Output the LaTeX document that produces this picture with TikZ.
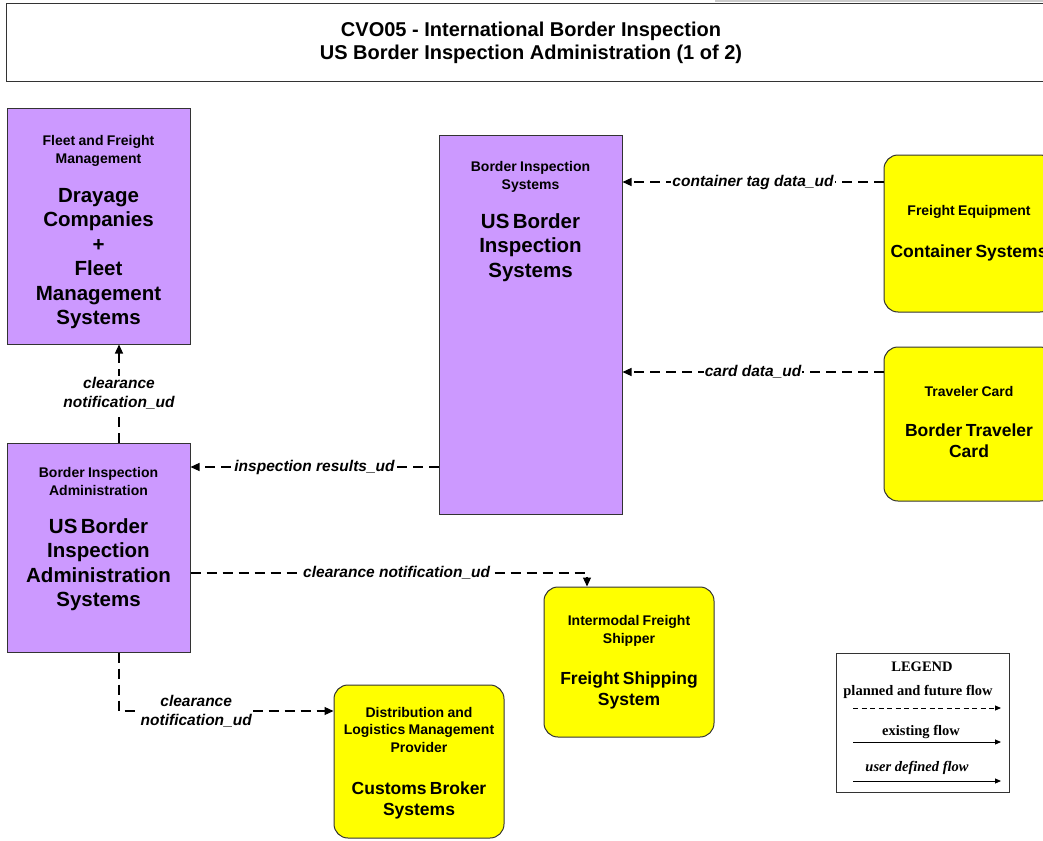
\documentclass[tikz,border=0pt]{standalone}
\usepackage{fontspec}
\setmainfont{Liberation Sans}
\newfontfamily\legendfont{Liberation Serif}
\usepackage{xcolor}
\definecolor{bisviolet}{HTML}{CC99FF}
\definecolor{bisyellow}{HTML}{FFFF00}
\definecolor{bisedge}{HTML}{333333}
\usetikzlibrary{arrows.meta,positioning,calc}

\newcommand{\smalltxt}{\fontsize{14}{17.5}\selectfont\bfseries}
\newcommand{\bigtxt}{\fontsize{20.5}{24.5}\selectfont\bfseries}
\newcommand{\termtxt}{\fontsize{17.5}{21}\selectfont\bfseries}
\newcommand{\padv}[1]{\vspace{#1}\hrule height0pt}

\tikzset{
  sysbox/.style={draw=bisedge,line width=1pt,fill=bisviolet,minimum width=183pt,
    text width=176pt,align=center,inner sep=0pt},
  termbox/.style={draw=bisedge,line width=1pt,fill=bisyellow,rounded corners=14pt,
    minimum width=170pt,text width=164pt,align=center,inner sep=0pt},
  flow/.style={line width=1.1pt,dash pattern=on 10pt off 6pt,
    -{Triangle[length=9pt,width=8pt]}},
  flowlbl/.style={fill=white,inner sep=1pt,align=center,
    font=\fontsize{15.5}{19}\selectfont\bfseries\itshape},
  lgdtxt/.style={font=\legendfont\fontsize{14.5}{16}\selectfont\bfseries,inner sep=0pt},
  lgdflow/.style={line width=0.9pt,-{Triangle[length=6pt,width=5pt]}},
}

\begin{document}
\begin{tikzpicture}[x=1pt,y=-1pt]
\useasboundingbox (0,0) rectangle (1043,840);
\clip (0,0) rectangle (1043,840);
\draw[black!20,line width=1.5pt] (715,0.8) -- (1043,0.8);

% title
\node[draw=bisedge,line width=1pt,minimum width=1050pt,minimum height=78pt,align=center,
  font=\fontsize{20}{23.5}\selectfont\bfseries] (title) at (531,43)
  {CVO05 - International Border Inspection\\US Border Inspection Administration (1 of 2)};

% subsystems
\node[sysbox,minimum height=235pt] (dray) at (98.5,226.5)
  {\hrule height0pt\vspace{12pt}{\smalltxt Fleet and Freight\\Management\par}\vspace{14.5pt}%
   {\bigtxt Drayage\\Companies\\+\\Fleet\\Management\\Systems\par}};
\node[sysbox,minimum height=379pt] (bis) at (530.5,324.5)
  {{\smalltxt Border Inspection\\Systems\par}\vspace{14.5pt}%
   {\bigtxt US Border\\Inspection\\Systems\par}\padv{206pt}};
\node[sysbox,minimum height=209pt] (adm) at (98.5,547.5)
  {{\smalltxt Border Inspection\\Administration\par}\vspace{13.5pt}%
   {\bigtxt US Border\\Inspection\\Administration\\Systems\par}\padv{16pt}};

% terminators
\node[termbox,minimum height=157pt] (cont) at (969,233.5)
  {{\smalltxt Freight Equipment\par}\vspace{21pt}{\termtxt Container Systems\par}};
\node[termbox,minimum height=154pt] (trav) at (969,424)
  {{\smalltxt Traveler Card\par}\vspace{19pt}{\termtxt Border Traveler\\Card\par}\padv{3pt}};
\node[termbox,minimum height=150pt] (frt) at (629,662)
  {{\smalltxt Intermodal Freight\\Shipper\par}\vspace{20pt}{\termtxt Freight Shipping\\System\par}};
\node[termbox,minimum height=153pt] (cbrk) at (419,761.5)
  {\hrule height0pt\vspace{3pt}{\smalltxt Distribution and\\Logistics Management\\Provider\par}\vspace{21pt}%
   {\termtxt Customs Broker\\Systems\par}};

% flows
\draw[flow] ([yshift=51.5pt]cont.west) coordinate (ctag) -- (ctag -| bis.east)
  node[flowlbl,midway]{container tag data\_ud};
\draw[flow] ([yshift=52pt]trav.west) coordinate (cdat) -- (cdat -| bis.east)
  node[flowlbl,midway]{card data\_ud};
\draw[flow] ([yshift=-142.5pt]bis.west) coordinate (insp) -- (insp -| adm.east)
  node[flowlbl,midway]{inspection results\_ud};
\draw[flow] ([xshift=20.5pt]adm.north) coordinate (clr) -- (clr |- dray.south)
  node[flowlbl,midway]{clearance\\notification\_ud};
\draw[flow] ([yshift=-25.5pt]adm.east) -| ([xshift=-42pt]frt.north)
  node[flowlbl,pos=0.26]{clearance notification\_ud};
\draw[flow] ([xshift=20.5pt]adm.south) |- ([yshift=50.5pt]cbrk.west)
  node[flowlbl,pos=0.68]{clearance\\notification\_ud};

% legend
\node[draw=bisedge,line width=1pt,minimum width=173pt,minimum height=139pt] (legend) at (922.5,722.5) {};
\node[lgdtxt] (lgdhead) at (922,667) {LEGEND};
\node[lgdtxt] (lgdplan) at (918,692) {planned and future flow};
\node[lgdtxt] (lgdexist) at (921,732) {existing flow};
\node[lgdtxt,font=\legendfont\fontsize{14.5}{16}\selectfont\bfseries\itshape] (lgduser) at (917,768) {user defined flow};
\coordinate (lp1) at (853,708); \coordinate (lp2) at (1001,708);
\coordinate (le1) at (853,742); \coordinate (le2) at (1001,742);
\coordinate (lu1) at (853,781); \coordinate (lu2) at (1001,781);
\draw[lgdflow,dash pattern=on 5pt off 3.5pt] (lp1) -- (lp2);
\draw[lgdflow] (le1) -- (le2);
\draw[lgdflow] (lu1) -- (lu2);
\end{tikzpicture}
\end{document}
